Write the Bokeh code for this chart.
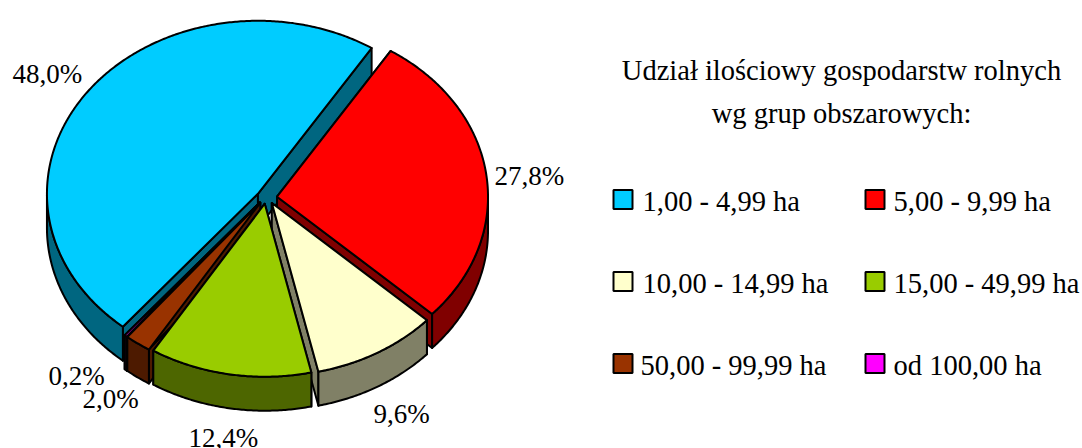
import numpy as np
from bokeh.plotting import figure
from bokeh.embed import file_html
from bokeh.resources import INLINE
from bokeh.core.properties import value

categories = ["1,00 - 4,99 ha", "5,00 - 9,99 ha", "10,00 - 14,99 ha", "15,00 - 49,99 ha", "50,00 - 99,99 ha", "od 100,00 ha"]
shares = [48.0, 27.8, 9.6, 12.4, 2.0, 0.2]
share_labels = ["48,0%", "27,8%", "9,6%", "12,4%", "2,0%", "0,2%"]
top_colors = ["#00CCFF", "#FF0000", "#FFFFCC", "#99CC00", "#993300", "#FF00FF"]
side_colors = ["#006680", "#800000", "#808066", "#4D6600", "#4D1A00", "#800080"]
title_lines = ["Udział ilościowy gospodarstw rolnych", "wg grup obszarowych:"]

# layout (page pixels)
CX, CY, A, B, EX, EY, DEPTH, START = 266.0, 197.0, 211.0, 173.0, 10.6, 6.3, 34.0, 219.8
LABEL_X = [12, 494, 373, 188, 82, 48]
LABEL_Y = [83, 185, 423, 447, 408, 385]
LEG_SW_X = [613, 865]
LEG_SW_Y = [199, 281, 363]
LEG_TX_X = [[642, 893], [642, 893], [640, 893]]
LEG_TX_Y = [211, 293, 375]
TXT_DY = -10
FONT = value("Liberation Serif")

p = figure(width=1082, height=448, x_range=(0, 1082), y_range=(448, 0), output_backend="svg",
           toolbar_location=None, min_border=0, outline_line_color=None)
p.xaxis.visible = False
p.yaxis.visible = False
p.grid.visible = False

# slice geometry from the shares
bounds = START + np.concatenate([[0], np.cumsum(shares)]) * 3.6
slices = {}
for i in range(len(shares)):
    a0, a1 = bounds[i], bounds[i + 1]
    mid = np.radians((a0 + a1) / 2)
    ax = CX + EX * np.sin(mid)
    ay = CY - EY * np.cos(mid)
    t = np.radians(np.linspace(a0, a1, max(int(a1 - a0) * 2, 4)))
    slices[i] = (ax, ay, a0, a1, ax + A * np.sin(t), ay - B * np.cos(t))

xs, ys, fills = [], [], []
for i in [0, 1, 5, 2, 4, 3]:
    ax, ay, a0, a1, ex, ey = slices[i]
    for k in (0, -1):
        xs.append([ax, ex[k], ex[k], ax])
        ys.append([ay, ey[k], ey[k] + DEPTH, ay + DEPTH])
        fills.append(side_colors[i])
    ang = np.degrees(np.arctan2(ex - ax, -(ey - ay))) % 360
    mask = (ang >= 90) & (ang <= 270)
    if mask.sum() > 1:
        rx, ry = ex[mask], ey[mask]
        xs.append(list(rx) + list(rx[::-1]))
        ys.append(list(ry) + list(ry[::-1] + DEPTH))
        fills.append(side_colors[i])
    xs.append([ax] + list(ex))
    ys.append([ay] + list(ey))
    fills.append(top_colors[i])

p.patches(xs, ys, fill_color=fills, line_color="black", line_width=2, line_join="round")

p.text(LABEL_X, LABEL_Y, text=share_labels, text_font=FONT, text_font_size="27px",
       text_align="left", text_baseline="alphabetic", text_color="#000000", y_offset=TXT_DY)

p.text([841, 841], [80, 123], text=title_lines, text_font=FONT, text_font_size="28.5px",
       text_align="center", text_baseline="alphabetic", text_color="#000000", y_offset=TXT_DY)

sw_x, sw_y, tx_x, tx_y = [], [], [], []
for i in range(len(categories)):
    r, c = i // 2, i % 2
    sw_x.append(LEG_SW_X[c] + 9.5)
    sw_y.append(LEG_SW_Y[r])
    tx_x.append(LEG_TX_X[r][c])
    tx_y.append(LEG_TX_Y[r])
p.rect(sw_x, sw_y, width=19, height=19, fill_color=top_colors, line_color="black", line_width=2)
p.text(tx_x, tx_y, text=categories, text_font=FONT, text_font_size="28.5px",
       text_align="left", text_baseline="alphabetic", text_color="#000000", y_offset=TXT_DY)

open("out.html", "w").write(file_html(p, INLINE))
